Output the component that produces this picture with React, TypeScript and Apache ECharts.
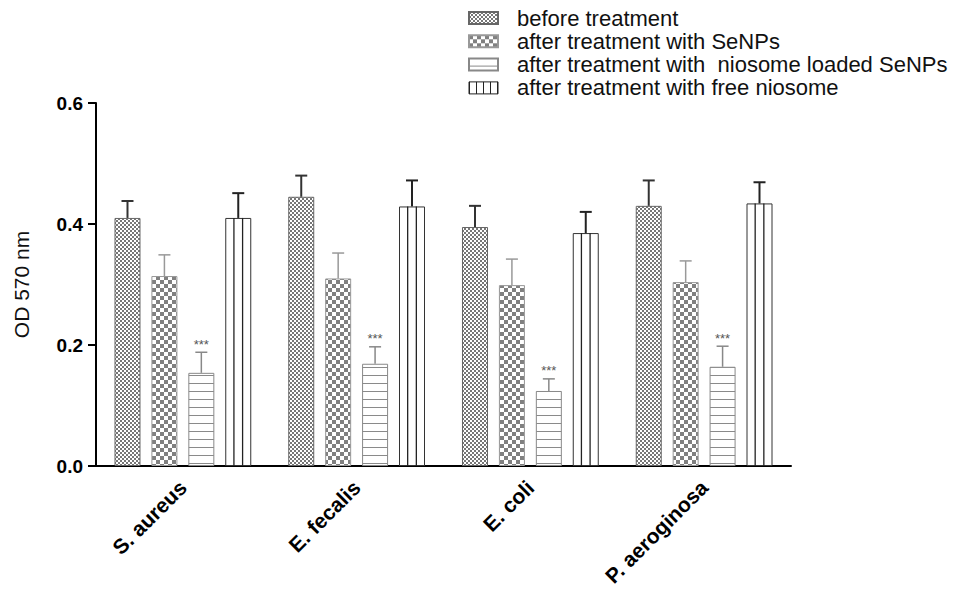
import React, { useEffect, useRef } from "react";
import * as echarts from "echarts";

const categories = ["S. aureus", "E. fecalis", "E. coli", "P. aeroginosa"];
const seriesNames = [
  "before treatment",
  "after treatment with SeNPs",
  "after treatment with  niosome loaded SeNPs",
  "after treatment with free niosome",
];
const beforeMean = [0.41, 0.445, 0.395, 0.43];
const beforeSd = [0.028, 0.035, 0.035, 0.042];
const senpMean = [0.314, 0.31, 0.299, 0.304];
const senpSd = [0.035, 0.042, 0.043, 0.035];
const nioSeMean = [0.154, 0.169, 0.124, 0.164];
const nioSeSd = [0.034, 0.028, 0.02, 0.034];
const freeMean = [0.41, 0.429, 0.385, 0.434];
const freeSd = [0.041, 0.043, 0.035, 0.035];
const yTicks = [0, 0.2, 0.4, 0.6];
const starLabel = "***";

const BAR_W = 26;
const GAP = 0.42;
const STEP = BAR_W * (1 + GAP);
const OFFSETS = [0, 1, 2, 3].map((i) => -1.5 * STEP + i * STEP);
const FONT = "'Liberation Sans', Arial, Helvetica, sans-serif";

function makeCanvas(w: number, h: number, draw: (c: CanvasRenderingContext2D) => void) {
  const cv = document.createElement("canvas");
  cv.width = w;
  cv.height = h;
  const ctx = cv.getContext("2d")!;
  ctx.fillStyle = "#ffffff";
  ctx.fillRect(0, 0, w, h);
  draw(ctx);
  return cv;
}

export default function App() {
  const ref = useRef<HTMLDivElement>(null);
  useEffect(() => {
    if (!ref.current) return;
    const chart = echarts.init(ref.current, null, { renderer: "svg" });

    const fineChecker = makeCanvas(4, 4, (c) => {
      c.fillStyle = "#777777";
      c.fillRect(0, 0, 2, 2);
      c.fillRect(2, 2, 2, 2);
    });
    const coarseChecker = makeCanvas(8, 8, (c) => {
      c.fillStyle = "#808080";
      c.fillRect(0, 0, 4, 4);
      c.fillRect(4, 4, 4, 4);
    });
    const hLines = makeCanvas(4, 8, (c) => {
      c.fillStyle = "#8a8a8a";
      c.fillRect(0, 7, 4, 1);
    });
    const vLines = makeCanvas(7, 4, (c) => {
      c.fillStyle = "#222222";
      c.fillRect(0, 0, 1, 4);
    });

    const pat = (img: HTMLCanvasElement) => ({ image: img, repeat: "repeat" } as any);

    const means = [beforeMean, senpMean, nioSeMean, freeMean];
    const sds = [beforeSd, senpSd, nioSeSd, freeSd];
    const fills = [pat(fineChecker), pat(coarseChecker), pat(hLines), "#ffffff"];
    const borders = ["#666666", "#999999", "#888888", "#333333"];
    const errColors = ["#333333", "#999999", "#888888", "#222222"];
    const errWidths = [2, 1.5, 1.5, 2];

    const barSeries = seriesNames.map((name, k) => ({
      name,
      type: "bar",
      barWidth: BAR_W,
      barGap: GAP * 100 + "%",
      data: means[k],
      z: 2,
      itemStyle: { color: fills[k], borderColor: borders[k], borderWidth: 1 },
    }));

    const overlaySeries = seriesNames.map((name, k) => ({
      name: "overlay" + k,
      type: "custom",
      silent: true,
      z: 4,
      encode: { x: 0, y: 1 },
      data: means[k].map((m, i) => [i, m, sds[k][i]]),
      renderItem: (_p: any, api: any) => {
        const ci = api.value(0);
        const m = api.value(1);
        const sd = api.value(2);
        const base = api.coord([ci, 0]);
        const top = api.coord([ci, m]);
        const et = api.coord([ci, m + sd]);
        const cx = base[0] + OFFSETS[k];
        const st = { stroke: errColors[k], lineWidth: errWidths[k] };
        const children: any[] = [
          { type: "line", shape: { x1: cx, y1: top[1], x2: cx, y2: et[1] }, style: st },
          { type: "line", shape: { x1: cx - 6, y1: et[1], x2: cx + 6, y2: et[1] }, style: st },
        ];
        if (k === 3) {
          const x0 = cx - BAR_W / 2;
          [1, 2].forEach((j) => {
            const xx = x0 + (BAR_W * j) / 3;
            children.push({
              type: "line",
              shape: { x1: xx, y1: top[1], x2: xx, y2: base[1] },
              style: { stroke: "#222222", lineWidth: 1.3 },
            });
          });
        }
        if (k === 2) {
          children.push({
            type: "text",
            style: {
              text: starLabel,
              x: cx,
              y: et[1] - 8,
              align: "center",
              verticalAlign: "middle",
              fill: "#555555",
              font: "13px " + FONT,
            },
          });
        }
        return { type: "group", children };
      },
    }));

    chart.setOption({
      animation: false,
      backgroundColor: "#ffffff",
      grid: { left: 96, right: 180, top: 103, bottom: 123, outerBoundsMode: "none", containLabel: false },
      legend: {
        orient: "vertical",
        left: 468,
        top: 7,
        padding: 0,
        icon: "rect",
        itemWidth: 29,
        itemHeight: 12,
        itemGap: 1.3,
        selectedMode: false,
        textStyle: {
          fontFamily: FONT,
          fontSize: 22,
          lineHeight: 22,
          color: "#111111",
          padding: [0, 0, 0, 14],
        },
        data: seriesNames.map((n, k) =>
          k === 3
            ? { name: n, itemStyle: { color: pat(vLines), borderColor: "#222222", borderWidth: 1 } }
            : { name: n }
        ),
      },
      xAxis: {
        type: "category",
        data: categories,
        axisLine: { lineStyle: { color: "#000000", width: 2 } },
        axisTick: { alignWithLabel: true, length: 8, lineStyle: { color: "#000000", width: 2 } },
        axisLabel: {
          rotate: 45,
          margin: 18,
          fontFamily: FONT,
          fontSize: 21,
          fontWeight: "bold",
          color: "#000000",
        },
      },
      yAxis: {
        type: "value",
        min: yTicks[0],
        max: yTicks[yTicks.length - 1],
        interval: 0.2,
        name: "OD 570 nm",
        nameLocation: "middle",
        nameGap: 64,
        nameTextStyle: { fontFamily: FONT, fontSize: 21, color: "#111111" },
        splitLine: { show: false },
        axisLine: { show: true, lineStyle: { color: "#000000", width: 2 } },
        axisTick: { show: true, length: 8, lineStyle: { color: "#000000", width: 2 } },
        axisLabel: {
          margin: 13,
          fontFamily: FONT,
          fontSize: 19,
          fontWeight: "bold",
          color: "#000000",
          formatter: (v: number) => v.toFixed(1),
        },
      },
      series: [...barSeries, ...overlaySeries],
    });
    return () => chart.dispose();
  }, []);
  return (
    <div
      ref={ref}
      style={{ position: "fixed", left: 0, top: 0, width: 971, height: 589 }}
    />
  );
}
